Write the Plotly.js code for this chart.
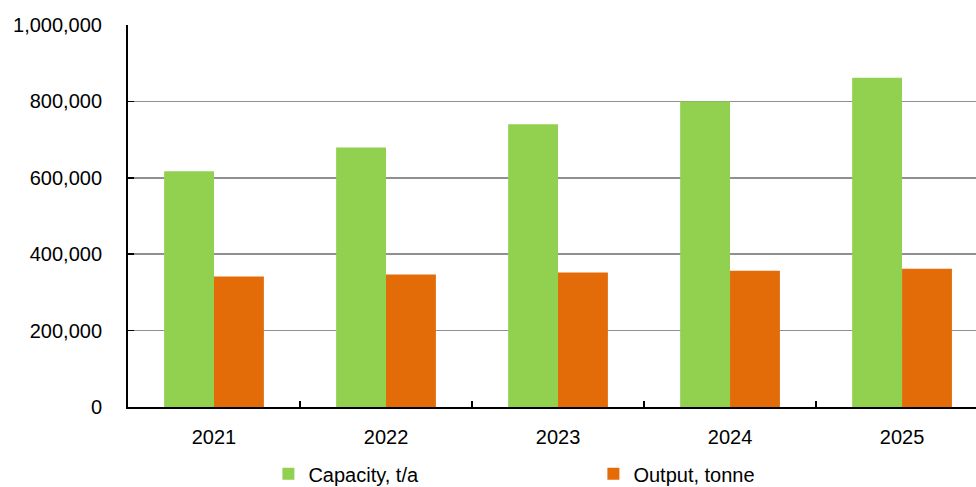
<!DOCTYPE html>
<html>
<head>
<meta charset="utf-8">
<script src="https://cdn.plot.ly/plotly-3.0.1.min.js"></script>
<style>
  html, body { margin: 0; padding: 0; background: #fff; }
  #chart { width: 976px; height: 487px; }
</style>
</head>
<body>
<div id="chart"></div>
<script>
// Annual capacity and output, 2021–2025
const years = ['2021', '2022', '2023', '2024', '2025'];
const capacity = [617000, 679000, 740000, 800000, 862000];
const output = [341500, 347000, 352000, 357000, 362000];

const seriesNames = ['Capacity, t/a', 'Output, tonne'];
const seriesColors = ['#92D050', '#E36C09'];

const FONT = 'Liberation Sans, Arial, sans-serif';

const traces = [
  { type: 'bar', name: seriesNames[0], x: years, y: capacity,
    marker: { color: seriesColors[0], line: { width: 0 } }, hoverinfo: 'x+y' },
  { type: 'bar', name: seriesNames[1], x: years, y: output,
    marker: { color: seriesColors[1], line: { width: 0 } }, hoverinfo: 'x+y' }
];

const layout = {
  width: 976,
  height: 487,
  margin: { l: 128, r: 0, t: 25, b: 80, pad: 0 },
  paper_bgcolor: '#ffffff',
  plot_bgcolor: '#ffffff',
  font: { family: FONT, size: 20, color: '#000000' },
  barmode: 'group',
  bargap: 0.42,
  bargroupgap: 0,
  showlegend: true,
  legend: {
    orientation: 'h',
    xref: 'container', yref: 'container',
    x: 0.275, xanchor: 'left',
    y: 0.027, yanchor: 'middle',
    entrywidth: 280, entrywidthmode: 'pixels',
    font: { family: FONT, size: 20, color: '#000000' },
    bgcolor: 'rgba(0,0,0,0)'
  },
  xaxis: {
    type: 'category',
    range: [-0.5, 4.43],
    showgrid: false,
    showline: true, linecolor: '#000000', linewidth: 2,
    ticks: 'inside', ticklen: 6, tickwidth: 1.5, tickcolor: '#000000',
    tickson: 'boundaries',
    ticklabelstandoff: 11,
    tickfont: { family: FONT, size: 20, color: '#000000' },
    zeroline: false,
    fixedrange: true
  },
  yaxis: {
    range: [0, 1000000],
    dtick: 200000,
    tick0: 0,
    tickformat: ',d',
    showgrid: true, gridcolor: '#909090', gridwidth: 1.5,
    showline: true, linecolor: '#000000', linewidth: 2,
    ticks: 'inside', ticklen: 6, tickwidth: 1.5, tickcolor: '#000000',
    ticklabelstandoff: 20,
    tickfont: { family: FONT, size: 20, color: '#000000' },
    zeroline: false,
    fixedrange: true
  }
};

Plotly.newPlot('chart', traces, layout, { displayModeBar: false, staticPlot: true });
</script>
</body>
</html>
